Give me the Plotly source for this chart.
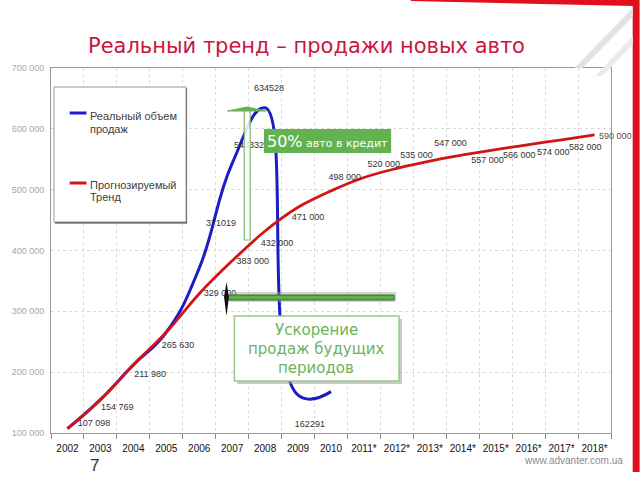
import plotly.graph_objects as go

# ---------------- data ----------------
years = ["2002", "2003", "2004", "2005", "2006", "2007", "2008", "2009", "2010",
         "2011*", "2012*", "2013*", "2014*", "2015*", "2016*", "2017*", "2018*"]
trend = [107098, 154769, 211980, 265630, 329000, 383000, 432000, 471000, 498000,
         520000, 535000, 547000, 557000, 566000, 574000, 582000, 590000]
real_years = ["2002", "2003", "2004", "2005", "2006", "2007", "2008", "2009", "2010"]
real = [107098, 154769, 211980, 265630, 371019, 543332, 634528, 162291, 168000]
real_labelled = ["2006", "2007", "2008", "2009"]
y_ticks = [100000, 200000, 300000, 400000, 500000, 600000, 700000]

# ---------------- styling / geometry ----------------
W, H = 640, 480
L, R, T, B = 43, 611, 68, 433          # plot area in pixels
YMIN, YMAX = 100000, 700000
NCAT = len(years)
CAT_PX = (R - L) / NCAT
VAL_PX = (B - T) / (YMAX - YMIN)

# label offsets in pixels (dx right, dy up)
trend_off = [(27, 5), (17, -8), (17, -10), (12, -14), (21, 0), (21, -1), (12, -13),
             (10, -10), (14, 13), (20, 13), (20, 13), (21, 17), (25, -6), (24, -6),
             (25, -8), (24, -8), (21, -1)]
real_off = [(22, 44), (17, 18), (4, 19), (12, -30)]

xi = {y: i for i, y in enumerate(years)}


def px(x, y):
    return (x - L) / (R - L), (B - y) / (B - T)


def path(points):
    s = ""
    for k, (x, y) in enumerate(points):
        a, b = px(x, y)
        s += ("M" if k == 0 else "L") + f"{a:.5f},{b:.5f} "
    return s + "Z"


def rect(x0, y0, x1, y1, **kw):
    a0, b0 = px(x0, y0)
    a1, b1 = px(x1, y1)
    d = dict(type="rect", xref="paper", yref="paper", x0=a0, y0=b1, x1=a1, y1=b0,
             layer="above")
    d.update(kw)
    return d


def poly(points, **kw):
    d = dict(type="path", xref="paper", yref="paper", path=path(points), layer="above")
    d.update(kw)
    return d


BLUE = "#1c1cc4"
RED = "#d21414"
GREEN = "#62b34f"
LABEL_FONT = dict(family="Liberation Sans, Arial", size=9, color="#333333")

fig = go.Figure()

fig.add_trace(go.Scatter(
    x=[xi[y] for y in real_years], y=real, mode="lines",
    line=dict(color=BLUE, width=3, shape="spline", smoothing=1.3),
    hoverinfo="skip", showlegend=False))
fig.add_trace(go.Scatter(
    x=list(range(NCAT)), y=trend, mode="lines",
    line=dict(color=RED, width=2.8, shape="spline", smoothing=1.0),
    hoverinfo="skip", showlegend=False))

ann = []

# data labels (last trend label lies outside the axis range -> annotation)
tx, ty, tt = [], [], []
for i, v in enumerate(trend):
    dx, dy = trend_off[i]
    lab = f"{v:,}".replace(",", " ")
    if i == NCAT - 1:
        ann.append(dict(xref="x", yref="y", x=i, y=v, xshift=dx, yshift=dy, text=lab,
                        showarrow=False, xanchor="center", yanchor="middle",
                        font=dict(family="Liberation Sans, Arial", size=9, color="#555555")))
        continue
    tx.append(i + dx / CAT_PX)
    ty.append(v + dy / VAL_PX)
    tt.append(lab)
for k, yr in enumerate(real_labelled):
    v = real[real_years.index(yr)]
    dx, dy = real_off[k]
    tx.append(xi[yr] + dx / CAT_PX)
    ty.append(v + dy / VAL_PX)
    tt.append(str(v))
fig.add_trace(go.Scatter(x=tx, y=ty, text=tt, mode="text", textposition="middle center",
                         textfont=LABEL_FONT, hoverinfo="skip", showlegend=False,
                         cliponaxis=False))

shapes = []
# page decoration (top-right red frame and grey diagonal)
shapes.append(poly([(408, 0), (640, 0), (640, 472), (633, 472), (633, 6), (408, 1)],
                   fillcolor="#e0101e", line=dict(width=0)))
shapes.append(poly([(574, 68), (582, 68), (633, 17), (633, 8)],
                   fillcolor="#e2e2e2", line=dict(width=0)))
shapes.append(poly([(595, 76), (602, 76), (633, 45), (633, 36)],
                   fillcolor="#ebebeb", line=dict(width=0)))

# legend box
shapes.append(rect(47, 88, 181, 223.5, fillcolor="#444444", line=dict(width=0)))
shapes.append(rect(46, 87, 180, 222, fillcolor="white", line=dict(color="#999999", width=1)))
a0, b0 = px(62, 113)
a1, _ = px(79, 113)
shapes.append(dict(type="line", xref="paper", yref="paper", x0=a0, x1=a1, y0=b0, y1=b0,
                   line=dict(color=BLUE, width=3), layer="above"))
a0, b0 = px(62, 183)
a1, _ = px(79, 183)
shapes.append(dict(type="line", xref="paper", yref="paper", x0=a0, x1=a1, y0=b0, y1=b0,
                   line=dict(color=RED, width=3), layer="above"))

# vertical up arrow
shapes.append(rect(239, 110, 245, 240, fillcolor="rgba(255,255,255,0.85)",
                   line=dict(color="#7dbb6c", width=1.2)))
shapes.append(poly([(222, 111), (242, 107), (261, 111)], fillcolor="#6aae58",
                   line=dict(color="#6aae58", width=1)))
# green box
shapes.append(rect(259, 129, 388, 153, fillcolor=GREEN, line=dict(width=0)))

# horizontal bar with shadow and left spike
shapes.append(rect(224, 292, 393, 302, fillcolor="rgba(160,160,160,0.45)", line=dict(width=0)))
shapes.append(rect(222, 295, 391, 300, fillcolor="#5fb04c", line=dict(color="#2f6f25", width=1)))
shapes.append(poly([(221, 282), (218.5, 297), (221, 316), (223.5, 297)], fillcolor="#111111",
                   line=dict(width=0)))

# callout box
shapes.append(rect(232, 319, 399, 384, fillcolor="rgba(150,150,150,0.5)", line=dict(width=0)))
shapes.append(rect(229, 316, 396, 381, fillcolor="white", line=dict(color="#95c987", width=1.5)))


def text(x, y, s, size, color, family="Liberation Sans, Arial", xanchor="center", **kw):
    a, b = px(x, y)
    d = dict(xref="paper", yref="paper", x=a, y=b, text=s, showarrow=False,
             xanchor=xanchor, yanchor="middle", font=dict(family=family, size=size, color=color))
    d.update(kw)
    ann.append(d)


text(302, 46, "Реальный тренд – продажи новых авто", 21, "#c8163f", family="DejaVu Sans")
text(81, 116.5, "Реальный объем", 11, "#404040", xanchor="left")
text(81, 128.5, "продаж", 11, "#404040", xanchor="left")
text(81, 184.5, "Прогнозируемый", 11, "#404040", xanchor="left")
text(81, 196.5, "Тренд", 11, "#404040", xanchor="left")
text(323, 141, "<span style='font-size:16px'>50%</span> авто в кредит", 11, "white",
     family="DejaVu Sans")
text(312, 330, "Ускорение", 15, "#6cb35b", family="DejaVu Sans")
text(312, 349, "продаж будущих", 15, "#6cb35b", family="DejaVu Sans")
text(312, 367.5, "периодов", 15, "#6cb35b", family="DejaVu Sans")
text(87, 465, "7", 17, "#333333")
text(625, 460, "www.advanter.com.ua", 10, "#8a8a8a", xanchor="right")

fig.update_layout(
    width=W, height=H,
    margin=dict(l=L, r=W - R, t=T, b=H - B, pad=0),
    paper_bgcolor="white", plot_bgcolor="white",
    separators=", ",
    shapes=shapes, annotations=ann,
    xaxis=dict(range=[-0.5, NCAT - 0.5], tickmode="array", tickvals=list(range(NCAT)),
               ticktext=years, ticks="", showgrid=False, zeroline=False,
               showline=True, linecolor="#999999", linewidth=1, mirror=True,
               tickfont=dict(family="Liberation Sans, Arial", size=10, color="#111111"),
               ticklabelstandoff=6,
               minor=dict(tickmode="linear", tick0=0.5, dtick=1, showgrid=True,
                          gridcolor="#d9d9d9", griddash="dot", gridwidth=1,
                          ticks="outside", ticklen=5, tickcolor="#888888")),
    yaxis=dict(range=[YMIN, YMAX], tickmode="array", tickvals=y_ticks, tickformat=",",
               showgrid=True, gridcolor="#d9d9d9", griddash="dot", zeroline=False,
               showline=True, linecolor="#999999", linewidth=1, mirror=True, ticks="",
               tickfont=dict(family="Liberation Sans, Arial", size=9, color="#a8a8a8"),
               ticklabelstandoff=4),
)

fig.write_html("out.html")
